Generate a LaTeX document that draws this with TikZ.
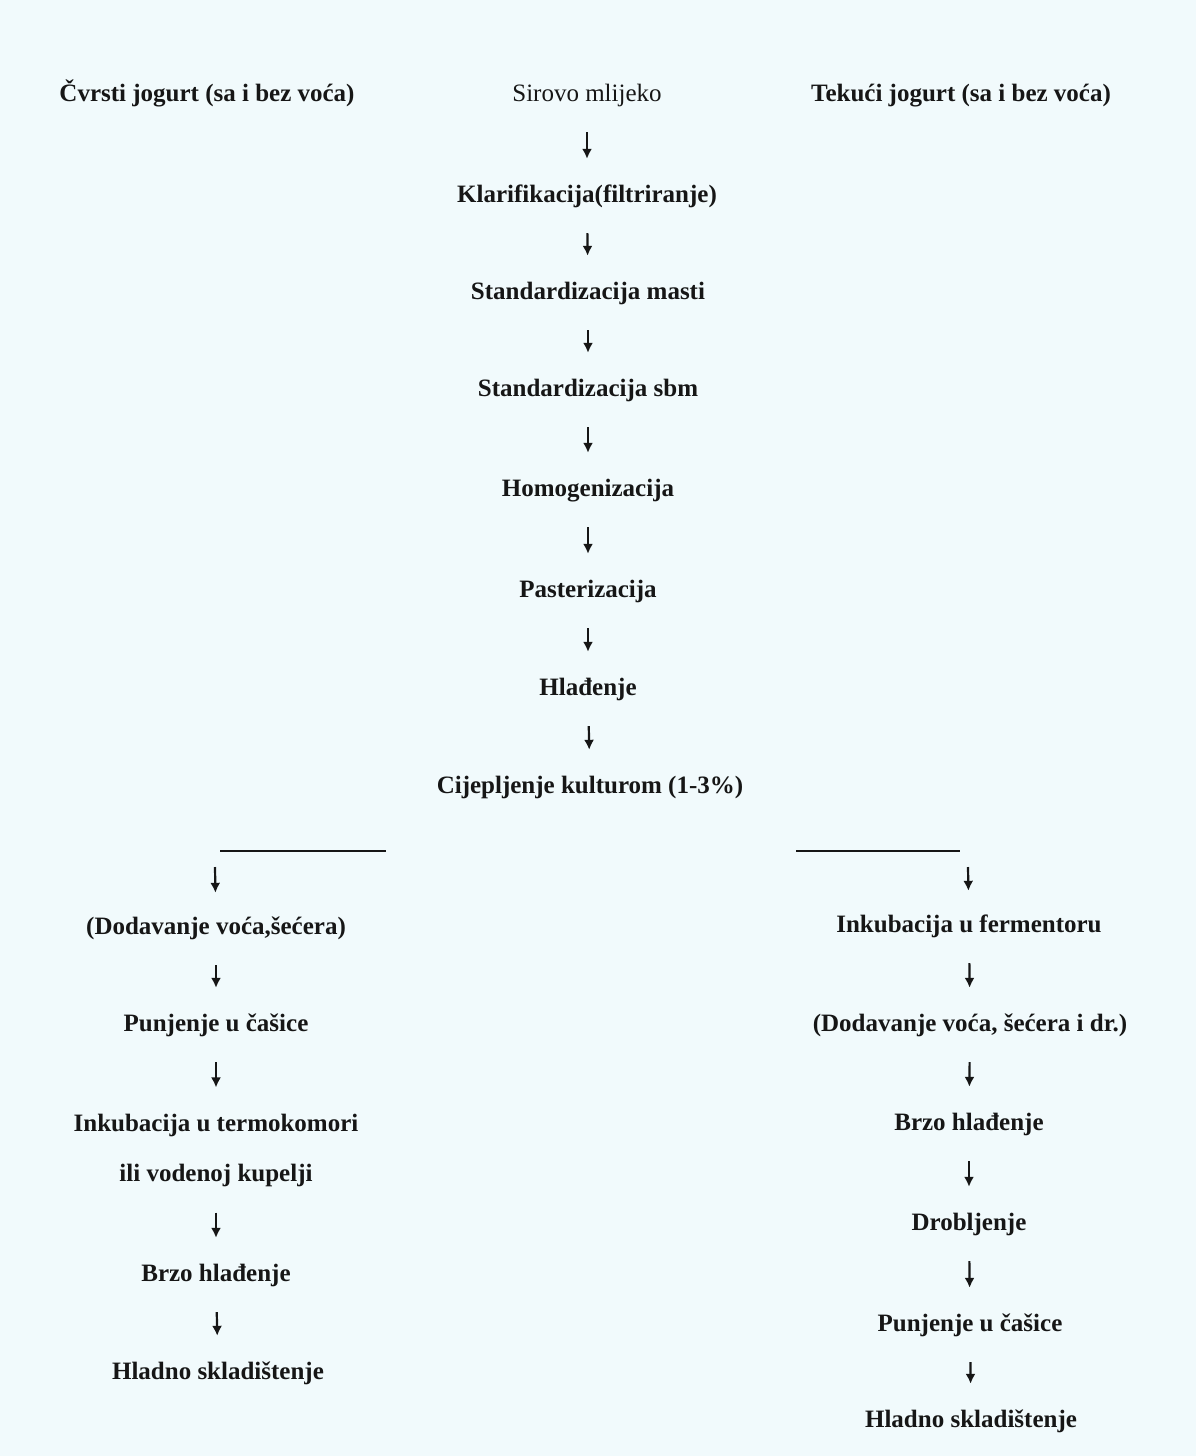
\documentclass[tikz,border=0pt]{standalone}
\usepackage{fontspec}
\setmainfont{Liberation Serif}
\usetikzlibrary{arrows.meta,positioning}
\definecolor{paperblue}{RGB}{241,250,252}
\definecolor{inkgray}{RGB}{22,22,22}
\tikzset{step_node/.style={inner sep=0pt, text height=17pt, text depth=5pt,
    text=inkgray, font=\fontsize{25}{30}\selectfont\bfseries},
  flow/.style={-{Latex[length=10pt,width=10pt]}, line width=2.2pt, draw=inkgray,
    shorten <=26pt, shorten >=26pt},
  bar/.style={line width=2.4pt, draw=inkgray}
}

\begin{document}
\begin{tikzpicture}[x=1pt,y=-1pt]
  \fill[paperblue] (0,0) rectangle (1196,1456);
  \useasboundingbox (0,0) rectangle (1196,1456);
  % headers
  \node[step_node] (cvrsti) at (207,95) {Čvrsti jogurt (sa i bez voća)};
  \node[step_node] (tekuci) at (961,95) {Tekući jogurt (sa i bez voća)};
  % main line
  \node[step_node, font=\fontsize{25}{30}\selectfont] (sirovo) at (587,95) {Sirovo mlijeko};
  \node[step_node] (klarif) at (587,196) {Klarifikacija(filtriranje)};
  \node[step_node] (stdmasti) at (588,293) {Standardizacija masti};
  \node[step_node] (stdsbm) at (588,390) {Standardizacija sbm};
  \node[step_node] (homog) at (588,490) {Homogenizacija};
  \node[step_node] (paster) at (588,591) {Pasterizacija};
  \node[step_node] (hladj) at (588,689) {Hlađenje};
  \node[step_node] (cijep) at (590,787) {Cijepljenje kulturom (1-3\%)};
  \foreach \a/\b in {sirovo/klarif,klarif/stdmasti,stdmasti/stdsbm,stdsbm/homog,
                     homog/paster,paster/hladj,hladj/cijep}
    \draw[flow] (\a) -- (\b);
  % branches
  \coordinate (lbar1) at (220,851);
  \coordinate (lbar2) at (386,851);
  \coordinate (rbar1) at (796,851);
  \coordinate (rbar2) at (960,851);
  \draw[bar] (lbar1) -- (lbar2);
  \draw[bar] (rbar1) -- (rbar2);
  \coordinate (lbranch) at (215,867);
  \coordinate (rbranch) at (968,867);
  % left column
  \node[step_node] (ldodav) at (216,928) {(Dodavanje voća,šećera)};
  \node[step_node] (lpunj) at (216,1025) {Punjenje u čašice};
  \node[step_node, align=center, text height=, text depth=,
        font=\fontsize{25}{50}\selectfont\bfseries] (linkub) at (216,1150)
        {Inkubacija u termokomori\\ili vodenoj kupelji};
  \node[step_node] (lbrzo) at (216,1275) {Brzo hlađenje};
  \node[step_node] (lhladno) at (218,1373) {Hladno skladištenje};
  \draw[flow, shorten <=0pt, shorten >=24pt] (lbranch) -- (ldodav);
  \foreach \a/\b in {ldodav/lpunj,lpunj/linkub,linkub/lbrzo,lbrzo/lhladno}
    \draw[flow] (\a) -- (\b);
  % right column
  \node[step_node] (rinkub) at (969,926) {Inkubacija u fermentoru};
  \node[step_node] (rdodav) at (970,1025) {(Dodavanje voća, šećera i dr.)};
  \node[step_node] (rbrzo) at (969,1124) {Brzo hlađenje};
  \node[step_node] (rdrob) at (969,1224) {Drobljenje};
  \node[step_node] (rpunj) at (970,1325) {Punjenje u čašice};
  \node[step_node] (rhladno) at (971,1421) {Hladno skladištenje};
  \draw[flow, shorten <=0pt, shorten >=24pt] (rbranch) -- (rinkub);
  \foreach \a/\b in {rinkub/rdodav,rdodav/rbrzo,rbrzo/rdrob,rdrob/rpunj,rpunj/rhladno}
    \draw[flow] (\a) -- (\b);
\end{tikzpicture}
\end{document}
